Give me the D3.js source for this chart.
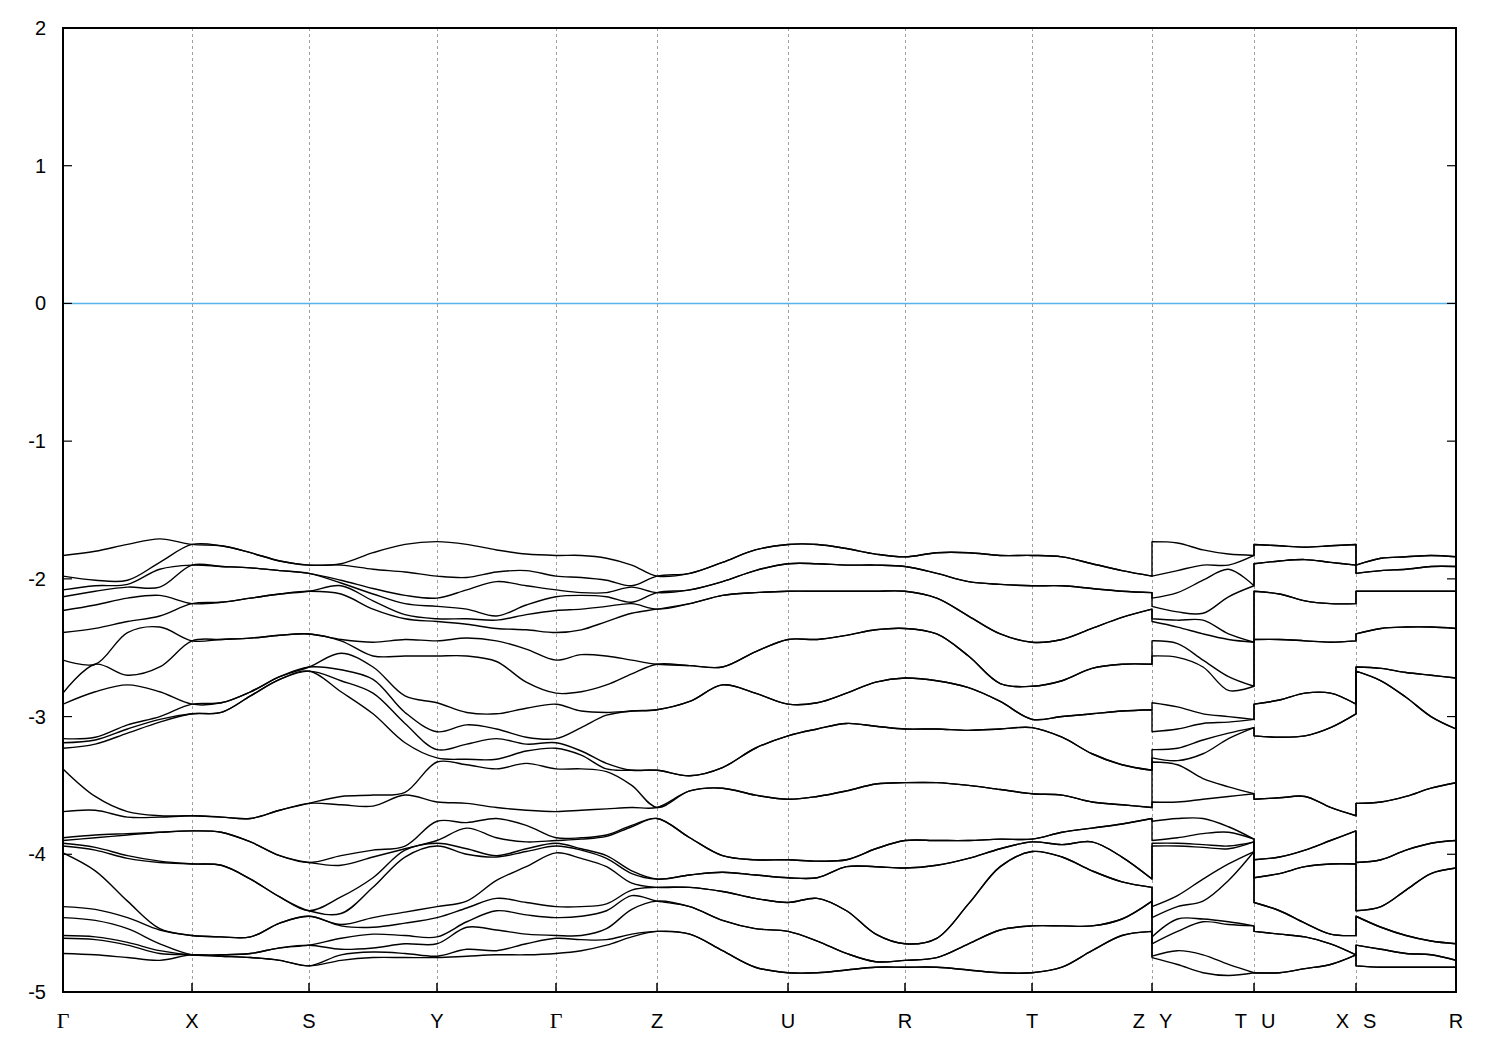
<!DOCTYPE html>
<html><head><meta charset="utf-8">
<script src="https://cdn.jsdelivr.net/npm/d3@7"></script>
<style>body{margin:0;background:#fff}</style>
</head><body><svg id="c" width="1500" height="1050"></svg>
<script>
// ---- axis data ----
const tickLabels = ["Γ","X","S","Y","Γ","Z","U","R","T","Z|Y","T|U","X|S","R"];
const kTicks = [0,0.4951,0.9441,1.4353,1.8920,2.2797,2.7824,3.2314,3.7189,4.1794,4.5709,4.9623,5.3461];
const yTicks = [-5,-4,-3,-2,-1,0,1,2];
const fermiLevel = 0;

// ---- band energies (eV) at high-symmetry points, 24 bands ----
const E_G = [-1.83,-1.98,-2.08,-2.13,-2.23,-2.39,-2.59,-2.83,-2.91,-3.16,-3.19,-3.23,-3.38,-3.69,-3.88,-3.90,-3.92,-3.94,-3.99,-4.38,-4.46,-4.59,-4.61,-4.72];
const E_X = [-1.75,-1.75,-1.90,-1.90,-2.18,-2.18,-2.45,-2.45,-2.91,-2.91,-2.98,-2.98,-3.72,-3.72,-3.83,-3.83,-4.07,-4.07,-4.59,-4.59,-4.73,-4.73,-4.73,-4.73];
const E_S = [-1.90,-1.90,-1.96,-1.96,-2.09,-2.09,-2.40,-2.40,-2.64,-2.64,-2.67,-2.67,-3.63,-3.63,-4.06,-4.06,-4.41,-4.41,-4.45,-4.45,-4.66,-4.66,-4.81,-4.81];
const E_Y = [-1.73,-1.98,-2.14,-2.20,-2.29,-2.31,-2.45,-2.56,-2.90,-3.11,-3.24,-3.30,-3.33,-3.62,-3.76,-3.90,-3.92,-3.94,-4.38,-4.46,-4.60,-4.65,-4.74,-4.75];
const E_Z = [-1.98,-1.98,-2.10,-2.10,-2.22,-2.22,-2.62,-2.62,-2.95,-2.95,-3.39,-3.39,-3.66,-3.66,-3.74,-3.74,-4.18,-4.18,-4.24,-4.24,-4.34,-4.34,-4.56,-4.56];
const E_U = [-1.75,-1.75,-1.89,-1.89,-2.09,-2.09,-2.44,-2.44,-2.91,-2.91,-3.14,-3.14,-3.60,-3.60,-4.04,-4.04,-4.17,-4.17,-4.35,-4.35,-4.56,-4.56,-4.86,-4.86];
const E_R = [-1.84,-1.84,-1.91,-1.91,-2.09,-2.09,-2.36,-2.36,-2.72,-2.72,-3.09,-3.09,-3.48,-3.48,-3.90,-3.90,-4.10,-4.10,-4.65,-4.65,-4.77,-4.77,-4.82,-4.82];
const E_T = [-1.83,-1.83,-2.05,-2.05,-2.46,-2.46,-2.78,-2.78,-3.02,-3.02,-3.08,-3.08,-3.56,-3.56,-3.89,-3.89,-3.91,-3.91,-3.98,-3.98,-4.52,-4.52,-4.86,-4.86];

// ---- band energies at 1/4, 1/2, 3/4 of each path segment ----
const GX = [
 [-1.80,-2.01,-2.05,-2.09,-2.19,-2.36,-2.62,-2.62,-2.82,-3.15,-3.17,-3.20,-3.58,-3.68,-3.86,-3.88,-3.95,-3.97,-4.12,-4.40,-4.48,-4.60,-4.62,-4.73],
 [-1.75,-2.01,-2.04,-2.06,-2.14,-2.31,-2.39,-2.70,-2.77,-3.06,-3.09,-3.12,-3.69,-3.73,-3.85,-3.86,-4.01,-4.03,-4.34,-4.46,-4.54,-4.64,-4.66,-4.75],
 [-1.71,-1.88,-1.93,-2.06,-2.12,-2.27,-2.35,-2.64,-2.82,-3.00,-3.02,-3.04,-3.72,-3.73,-3.84,-3.84,-4.05,-4.06,-4.54,-4.55,-4.65,-4.70,-4.72,-4.77]];
const XS = [
 [-1.76,-1.76,-1.91,-1.91,-2.17,-2.17,-2.44,-2.44,-2.90,-2.90,-2.97,-2.97,-3.73,-3.73,-3.84,-3.84,-4.08,-4.08,-4.60,-4.60,-4.73,-4.73,-4.74,-4.74],
 [-1.81,-1.81,-1.92,-1.92,-2.14,-2.14,-2.43,-2.43,-2.82,-2.82,-2.85,-2.85,-3.74,-3.74,-3.91,-3.91,-4.18,-4.18,-4.60,-4.60,-4.72,-4.72,-4.75,-4.75],
 [-1.87,-1.87,-1.94,-1.94,-2.11,-2.11,-2.41,-2.41,-2.71,-2.71,-2.73,-2.73,-3.68,-3.68,-4.01,-4.01,-4.31,-4.31,-4.50,-4.50,-4.68,-4.68,-4.77,-4.77]];
const SY = [
 [-1.89,-1.90,-2.01,-2.03,-2.05,-2.11,-2.44,-2.45,-2.54,-2.66,-2.74,-2.82,-3.58,-3.64,-4.01,-4.08,-4.31,-4.43,-4.51,-4.52,-4.61,-4.69,-4.73,-4.77],
 [-1.81,-1.93,-2.07,-2.11,-2.16,-2.22,-2.46,-2.56,-2.64,-2.73,-2.83,-2.98,-3.57,-3.65,-3.97,-4.02,-4.17,-4.24,-4.46,-4.53,-4.58,-4.68,-4.71,-4.75],
 [-1.75,-1.95,-2.12,-2.18,-2.26,-2.29,-2.44,-2.56,-2.85,-2.97,-3.05,-3.19,-3.55,-3.57,-3.94,-3.96,-3.97,-4.02,-4.42,-4.50,-4.59,-4.65,-4.72,-4.75]];
const YG = [
 [-1.75,-1.99,-2.08,-2.22,-2.29,-2.33,-2.43,-2.56,-2.97,-3.06,-3.20,-3.31,-3.35,-3.63,-3.77,-3.81,-3.96,-4.00,-4.34,-4.39,-4.49,-4.53,-4.69,-4.74],
 [-1.79,-1.95,-2.02,-2.27,-2.30,-2.36,-2.45,-2.60,-2.98,-3.09,-3.16,-3.31,-3.38,-3.66,-3.74,-3.88,-4.01,-4.02,-4.19,-4.32,-4.41,-4.55,-4.70,-4.73],
 [-1.82,-1.94,-2.05,-2.19,-2.26,-2.37,-2.51,-2.75,-2.94,-3.15,-3.20,-3.25,-3.34,-3.68,-3.79,-3.91,-3.96,-3.98,-4.09,-4.35,-4.44,-4.58,-4.65,-4.73]];
const GZ = [
 [-1.83,-1.99,-2.10,-2.12,-2.22,-2.37,-2.55,-2.82,-2.96,-3.08,-3.25,-3.28,-3.38,-3.68,-3.88,-3.89,-3.96,-3.97,-4.03,-4.38,-4.45,-4.59,-4.62,-4.70],
 [-1.85,-2.01,-2.10,-2.13,-2.20,-2.31,-2.56,-2.77,-2.97,-2.99,-3.34,-3.38,-3.40,-3.67,-3.86,-3.87,-4.01,-4.03,-4.09,-4.36,-4.41,-4.54,-4.62,-4.66],
 [-1.90,-2.05,-2.06,-2.17,-2.18,-2.25,-2.59,-2.69,-2.96,-2.96,-3.39,-3.39,-3.50,-3.66,-3.79,-3.80,-4.12,-4.14,-4.21,-4.26,-4.30,-4.40,-4.58,-4.60]];
const ZU = [
 [-1.96,-1.96,-2.08,-2.08,-2.18,-2.18,-2.63,-2.63,-2.89,-2.89,-3.43,-3.43,-3.54,-3.54,-3.88,-3.88,-4.15,-4.15,-4.24,-4.24,-4.38,-4.38,-4.58,-4.58],
 [-1.88,-1.88,-2.02,-2.02,-2.12,-2.12,-2.64,-2.64,-2.77,-2.77,-3.37,-3.37,-3.52,-3.52,-4.01,-4.01,-4.13,-4.13,-4.27,-4.27,-4.48,-4.48,-4.70,-4.70],
 [-1.79,-1.79,-1.94,-1.94,-2.10,-2.10,-2.53,-2.53,-2.83,-2.83,-3.23,-3.23,-3.57,-3.57,-4.04,-4.04,-4.15,-4.15,-4.32,-4.32,-4.54,-4.54,-4.82,-4.82]];
const UR = [
 [-1.75,-1.75,-1.89,-1.89,-2.09,-2.09,-2.44,-2.44,-2.90,-2.90,-3.09,-3.09,-3.58,-3.58,-4.05,-4.05,-4.17,-4.17,-4.32,-4.32,-4.63,-4.63,-4.86,-4.86],
 [-1.78,-1.78,-1.90,-1.90,-2.09,-2.09,-2.41,-2.41,-2.83,-2.83,-3.05,-3.05,-3.54,-3.54,-4.04,-4.04,-4.09,-4.09,-4.41,-4.41,-4.72,-4.72,-4.84,-4.84],
 [-1.82,-1.82,-1.90,-1.90,-2.09,-2.09,-2.37,-2.37,-2.75,-2.75,-3.07,-3.07,-3.49,-3.49,-3.96,-3.96,-4.09,-4.09,-4.58,-4.58,-4.78,-4.78,-4.82,-4.82]];
const RT = [
 [-1.81,-1.81,-1.96,-1.96,-2.14,-2.14,-2.40,-2.40,-2.74,-2.74,-3.09,-3.09,-3.48,-3.48,-3.90,-3.90,-4.08,-4.08,-4.61,-4.61,-4.75,-4.75,-4.82,-4.82],
 [-1.81,-1.81,-2.02,-2.02,-2.27,-2.27,-2.56,-2.56,-2.79,-2.79,-3.10,-3.10,-3.50,-3.50,-3.90,-3.90,-4.03,-4.03,-4.36,-4.36,-4.65,-4.65,-4.84,-4.84],
 [-1.83,-1.83,-2.04,-2.04,-2.40,-2.40,-2.76,-2.76,-2.89,-2.89,-3.09,-3.09,-3.53,-3.53,-3.89,-3.89,-3.96,-3.96,-4.09,-4.09,-4.55,-4.55,-4.86,-4.86]];
const TZ = [
 [-1.84,-1.84,-2.05,-2.05,-2.44,-2.44,-2.74,-2.74,-3.00,-3.00,-3.15,-3.15,-3.57,-3.57,-3.84,-3.84,-3.93,-3.93,-4.02,-4.02,-4.52,-4.52,-4.82,-4.82],
 [-1.89,-1.89,-2.07,-2.07,-2.36,-2.36,-2.65,-2.65,-2.98,-2.98,-3.27,-3.27,-3.62,-3.62,-3.81,-3.81,-3.91,-3.91,-4.12,-4.12,-4.52,-4.52,-4.70,-4.70],
 [-1.94,-1.94,-2.09,-2.09,-2.28,-2.28,-2.62,-2.62,-2.96,-2.96,-3.35,-3.35,-3.64,-3.64,-3.78,-3.78,-4.02,-4.02,-4.20,-4.20,-4.47,-4.47,-4.59,-4.59]];
const YT = [
 [-1.74,-1.94,-2.10,-2.24,-2.30,-2.35,-2.47,-2.57,-2.93,-3.09,-3.23,-3.32,-3.35,-3.62,-3.74,-3.88,-3.92,-3.94,-4.30,-4.38,-4.47,-4.56,-4.70,-4.80],
 [-1.79,-1.90,-2.01,-2.25,-2.30,-2.40,-2.59,-2.64,-2.98,-3.05,-3.17,-3.27,-3.45,-3.60,-3.74,-3.85,-3.93,-3.95,-4.18,-4.34,-4.47,-4.49,-4.73,-4.86],
 [-1.82,-1.90,-1.93,-2.13,-2.40,-2.44,-2.71,-2.81,-3.00,-3.04,-3.12,-3.16,-3.51,-3.58,-3.80,-3.84,-3.94,-3.96,-4.07,-4.19,-4.49,-4.51,-4.80,-4.88]];
const UX = [
 [-1.76,-1.76,-1.87,-1.87,-2.11,-2.11,-2.44,-2.44,-2.88,-2.88,-3.15,-3.15,-3.59,-3.59,-4.02,-4.02,-4.14,-4.14,-4.41,-4.41,-4.58,-4.58,-4.86,-4.86],
 [-1.77,-1.77,-1.86,-1.86,-2.16,-2.16,-2.45,-2.45,-2.83,-2.83,-3.14,-3.14,-3.58,-3.58,-3.97,-3.97,-4.09,-4.09,-4.50,-4.50,-4.60,-4.60,-4.83,-4.83],
 [-1.76,-1.76,-1.88,-1.88,-2.18,-2.18,-2.46,-2.46,-2.83,-2.83,-3.08,-3.08,-3.66,-3.66,-3.90,-3.90,-4.07,-4.07,-4.58,-4.58,-4.65,-4.65,-4.80,-4.80]];
const SR = [
 [-1.85,-1.85,-1.94,-1.94,-2.09,-2.09,-2.36,-2.36,-2.65,-2.65,-2.74,-2.74,-3.62,-3.62,-4.04,-4.04,-4.38,-4.38,-4.53,-4.53,-4.69,-4.69,-4.82,-4.82],
 [-1.84,-1.84,-1.93,-1.93,-2.09,-2.09,-2.35,-2.35,-2.68,-2.68,-2.86,-2.86,-3.58,-3.58,-3.97,-3.97,-4.26,-4.26,-4.59,-4.59,-4.72,-4.72,-4.82,-4.82],
 [-1.83,-1.83,-1.91,-1.91,-2.09,-2.09,-2.35,-2.35,-2.70,-2.70,-3.00,-3.00,-3.52,-3.52,-3.92,-3.92,-4.14,-4.14,-4.63,-4.63,-4.73,-4.73,-4.82,-4.82]];

const midFractions = [0.25, 0.5, 0.75];

// continuous path blocks (discontinuities at Z|Y, T|U, X|S)
const blocks = [
  {nodes:[0,1,2,3,4,5,6,7,8,9], E:[E_G,E_X,E_S,E_Y,E_G,E_Z,E_U,E_R,E_T,E_Z], mids:[GX,XS,SY,YG,GZ,ZU,UR,RT,TZ]},
  {nodes:[9,10], E:[E_Y,E_T], mids:[YT]},
  {nodes:[10,11], E:[E_U,E_X], mids:[UX]},
  {nodes:[11,12], E:[E_S,E_R], mids:[SR]}
];

// ---- layout ----
const L = 63, R = 1456, T = 28, B = 992;
const svg = d3.select("#c");
const x = d3.scaleLinear().domain([kTicks[0], kTicks[kTicks.length-1]]).range([L, R]);
const y = d3.scaleLinear().domain([-5, 2]).range([B, T]);
const sans = "'Liberation Sans', Arial, Helvetica, sans-serif";
const serif = "'Liberation Serif', 'Times New Roman', serif";

svg.append("rect").attr("width",1500).attr("height",1050).attr("fill","#fff");

// grid lines
svg.append("g").selectAll("line").data(kTicks.slice(1,-1)).join("line")
  .attr("x1",d=>Math.round(x(d))+0.5).attr("x2",d=>Math.round(x(d))+0.5).attr("y1",T).attr("y2",B)
  .attr("stroke","#a0a0a0").attr("stroke-width",1).attr("stroke-dasharray","3,3");

// Fermi level
svg.append("line").attr("x1",L).attr("x2",R).attr("y1",y(fermiLevel)).attr("y2",y(fermiLevel))
  .attr("stroke","#56b4e9").attr("stroke-width",1.6);

// bands
svg.append("clipPath").attr("id","clip").append("rect").attr("x",L).attr("y",T).attr("width",R-L).attr("height",B-T);
function columns(b){
  const cols=[];
  b.nodes.forEach((n,i)=>{
    cols.push({k:kTicks[n], e:b.E[i]});
    if(i<b.nodes.length-1){
      const k0=kTicks[n], k1=kTicks[b.nodes[i+1]];
      b.mids[i].forEach((e,j)=>cols.push({k:k0+midFractions[j]*(k1-k0), e}));
    }
  });
  return cols.map(c=>({k:c.k, e:[...c.e].sort((a,b)=>b-a)}));
}
const blockCols = blocks.map(columns);
const nBands = E_G.length;
const line = d3.line().x(d=>x(d[0])).y(d=>y(d[1])).curve(d3.curveCatmullRom.alpha(0.5));
const gB = svg.append("g").attr("clip-path","url(#clip)");
for(let b=0;b<nBands;b++){
  let dstr="";
  blockCols.forEach((cols,bi)=>{
    let s=line(cols.map(c=>[c.k,c.e[b]]));
    if(bi>0) s="L"+s.slice(1);
    dstr+=s;
  });
  gB.append("path").attr("d",dstr).attr("fill","none").attr("stroke","#000")
    .attr("stroke-width",1.4).attr("stroke-linejoin","round");
}

// frame
svg.append("rect").attr("x",L).attr("y",T).attr("width",R-L).attr("height",B-T)
  .attr("fill","none").attr("stroke","#000").attr("stroke-width",2);

// y ticks + labels
const gy = svg.append("g");
yTicks.forEach(v=>{
  gy.append("line").attr("x1",L).attr("x2",L+9).attr("y1",y(v)).attr("y2",y(v)).attr("stroke","#000").attr("stroke-width",1.2);
  gy.append("line").attr("x1",R-9).attr("x2",R).attr("y1",y(v)).attr("y2",y(v)).attr("stroke","#000").attr("stroke-width",1.2);
  gy.append("text").attr("x",L-17).attr("y",y(v)).attr("dy","0.35em").attr("text-anchor","end")
    .attr("font-family",sans).attr("font-size",20).text(v);
});

// x ticks + labels
const gx = svg.append("g");
kTicks.forEach((k,i)=>{
  if(i>0 && i<kTicks.length-1){
    gx.append("line").attr("x1",x(k)).attr("x2",x(k)).attr("y1",B).attr("y2",B-9).attr("stroke","#000").attr("stroke-width",1.5);
  }
  const lab = tickLabels[i];
  const fam = s => s==="Γ" ? serif : sans;
  if(lab.includes("|")){
    const [a,b2] = lab.split("|");
    gx.append("text").attr("x",x(k)-7).attr("y",B+36).attr("text-anchor","end")
      .attr("font-family",fam(a)).attr("font-size",20).text(a);
    gx.append("text").attr("x",x(k)+7).attr("y",B+36).attr("text-anchor","start")
      .attr("font-family",fam(b2)).attr("font-size",20).text(b2);
  } else {
    gx.append("text").attr("x",x(k)).attr("y",B+36).attr("text-anchor","middle")
      .attr("font-family",fam(lab)).attr("font-size",lab==="Γ"?22:20).text(lab);
  }
});
</script>
</body></html>
